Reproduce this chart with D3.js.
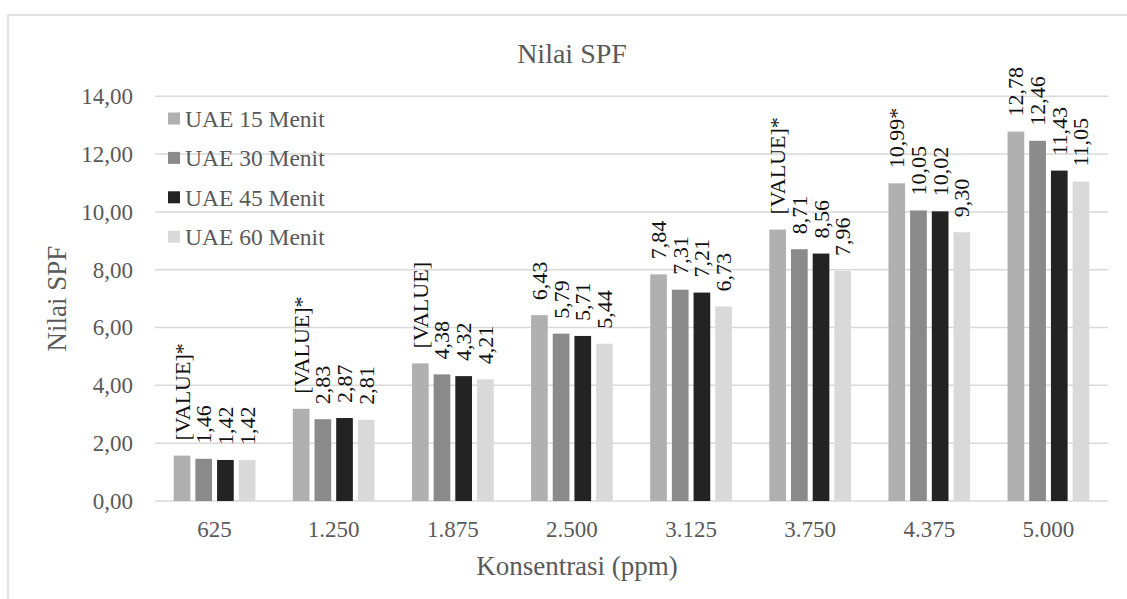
<!DOCTYPE html>
<html>
<head>
<meta charset="utf-8">
<script src="https://cdn.jsdelivr.net/npm/d3@7"></script>
<style>
  html, body { margin: 0; padding: 0; background: #fff; }
  svg { display: block; }
  text { font-family: "Liberation Serif", "Times New Roman", serif; }
</style>
</head>
<body>
<svg id="chart" width="1127" height="599"></svg>
<script>
// ---------- data ----------
const categories = ["625", "1.250", "1.875", "2.500", "3.125", "3.750", "4.375", "5.000"];
const seriesNames = ["UAE 15 Menit", "UAE 30 Menit", "UAE 45 Menit", "UAE 60 Menit"];
const uae15 = [1.57, 3.19, 4.76, 6.43, 7.84, 9.39, 10.99, 12.78];
const uae30 = [1.46, 2.83, 4.38, 5.79, 7.31, 8.71, 10.05, 12.46];
const uae45 = [1.42, 2.87, 4.32, 5.71, 7.21, 8.56, 10.02, 11.43];
const uae60 = [1.42, 2.81, 4.21, 5.44, 6.73, 7.96, 9.30, 11.05];
// custom label texts for the UAE 15 Menit series (null = show the value)
const uae15Labels = ["[VALUE]*", "[VALUE]*", "[VALUE]", null, null, "[VALUE]*", "10,99*", null];
const yTicks = [0, 2, 4, 6, 8, 10, 12, 14];
const seriesColors = ["#b0b0b0", "#8a8a8a", "#232323", "#d9d9d9"];
const chartTitle = "Nilai SPF";
const xTitle = "Konsentrasi (ppm)";
const yTitle = "Nilai SPF";

const seriesValues = [uae15, uae30, uae45, uae60];
const seriesLabels = [uae15Labels, null, null, null];

// ---------- layout ----------
const svg = d3.select("#chart");
const plot = { left: 155, right: 1108, top: 96.3, bottom: 501 };
const fmt = v => d3.format(".2f")(v).replace(".", ",");
const textGrey = "#595959";

// chart frame
svg.append("rect")
  .attr("x", 8).attr("y", 15)
  .attr("width", 1140).attr("height", 600)
  .attr("fill", "#fff").attr("stroke", "#d9d9d9").attr("stroke-width", 1.5);

const x0 = d3.scaleBand().domain(categories).range([plot.left, plot.right]).paddingInner(0).paddingOuter(0);
const band = x0.bandwidth();
const groupW = band * 0.686;
const x1 = d3.scaleBand().domain(d3.range(seriesNames.length))
  .range([(band - groupW) / 2, (band + groupW) / 2])
  .paddingInner(0.3 / 1.3).paddingOuter(0);
const y = d3.scaleLinear().domain([0, 14]).range([plot.bottom, plot.top]);

// gridlines
svg.append("g").selectAll("line").data(yTicks).join("line")
  .attr("x1", plot.left).attr("x2", plot.right)
  .attr("y1", d => y(d)).attr("y2", d => y(d))
  .attr("stroke", "#d9d9d9").attr("stroke-width", 1.5);

// y axis tick labels
const yAxis = d3.axisLeft(y).tickValues(yTicks).tickFormat(fmt).tickSize(0).tickPadding(0);
const gy = svg.append("g").attr("transform", `translate(${plot.left - 22},0)`).call(yAxis);
gy.select(".domain").remove();
gy.selectAll("text").attr("font-size", 23).attr("fill", textGrey)
  .attr("font-family", "Liberation Serif, Times New Roman, serif");

// x axis tick labels
const xAxis = d3.axisBottom(x0).tickSize(0).tickPadding(0);
const gx = svg.append("g").attr("transform", `translate(0,${plot.bottom + 20})`).call(xAxis);
gx.select(".domain").remove();
gx.selectAll("text").attr("font-size", 23).attr("fill", textGrey)
  .attr("font-family", "Liberation Serif, Times New Roman, serif");

// bars
const rows = [];
categories.forEach((c, ci) => {
  seriesValues.forEach((vals, si) => {
    const custom = seriesLabels[si] ? seriesLabels[si][ci] : null;
    rows.push({ cat: c, si, v: vals[ci], label: custom != null ? custom : fmt(vals[ci]) });
  });
});

svg.append("g").selectAll("rect").data(rows).join("rect")
  .attr("x", d => x0(d.cat) + x1(d.si))
  .attr("width", x1.bandwidth())
  .attr("y", d => y(d.v))
  .attr("height", d => y(0) - y(d.v))
  .attr("fill", d => seriesColors[d.si]);

// data labels (rotated)
svg.append("g").selectAll("text").data(rows).join("text")
  .attr("transform", d => `translate(${x0(d.cat) + x1(d.si) + x1.bandwidth() / 2},${y(d.v) - 15}) rotate(-90)`)
  .attr("dy", "0.34em")
  .attr("text-anchor", "start")
  .attr("font-size", 22)
  .attr("fill", "#111")
  .text(d => d.label);

// legend
const lg = svg.append("g");
seriesNames.forEach((name, i) => {
  const cy = 118.5 + i * 39.4;
  lg.append("rect").attr("x", 168).attr("y", cy - 6).attr("width", 12).attr("height", 12)
    .attr("fill", seriesColors[i]);
  lg.append("text").attr("x", 185).attr("y", cy + 8.5)
    .attr("font-size", 23.5).attr("fill", textGrey).text(name);
});

// titles
svg.append("text").attr("x", 572).attr("y", 63).attr("text-anchor", "middle")
  .attr("font-size", 28).attr("fill", textGrey).text(chartTitle);
svg.append("text").attr("x", 577).attr("y", 575).attr("text-anchor", "middle")
  .attr("font-size", 27).attr("fill", textGrey).text(xTitle);
svg.append("text").attr("transform", `translate(66,${(plot.top + plot.bottom) / 2}) rotate(-90)`)
  .attr("text-anchor", "middle")
  .attr("font-size", 27).attr("fill", textGrey).text(yTitle);
</script>
</body>
</html>
